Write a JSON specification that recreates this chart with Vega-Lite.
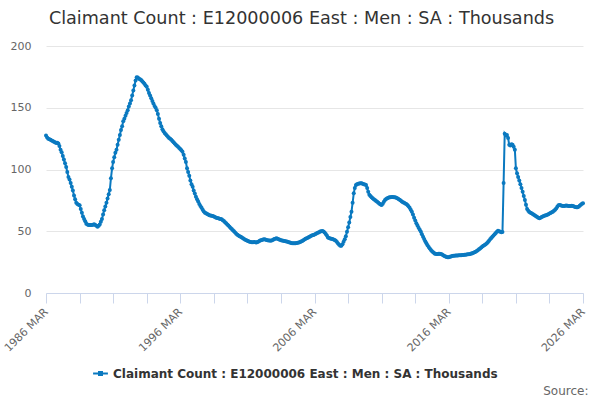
{
  "$schema": "https://vega.github.io/schema/vega-lite/v6.json",
  "width": 537,
  "height": 247,
  "autosize": {"type": "none"},
  "padding": {"left": 46, "top": 46, "right": 17, "bottom": 107},
  "title": {
    "text": "Claimant Count : E12000006 East : Men : SA : Thousands",
    "font": "DejaVu Sans", "fontSize": 17.6, "fontWeight": "normal", "color": "#333333",
    "anchor": "middle", "dx": -13, "offset": 12
  },
  "data": {
    "values": [
      {"d":"1986-03","v":127.5},{"d":"1986-04","v":126},{"d":"1986-05","v":125},{"d":"1986-06","v":124.5},{"d":"1986-07","v":124},{"d":"1986-08","v":123.5},{"d":"1986-09","v":123},{"d":"1986-10","v":122.5},{"d":"1986-11","v":122},{"d":"1986-12","v":121.5},
      {"d":"1987-01","v":121.7},{"d":"1987-02","v":121},{"d":"1987-03","v":119},{"d":"1987-04","v":116},{"d":"1987-05","v":114},{"d":"1987-06","v":111},{"d":"1987-07","v":108},{"d":"1987-08","v":105},{"d":"1987-09","v":102},{"d":"1987-10","v":98},{"d":"1987-11","v":94},{"d":"1987-12","v":92},
      {"d":"1988-01","v":89},{"d":"1988-02","v":86},{"d":"1988-03","v":83},{"d":"1988-04","v":79},{"d":"1988-05","v":76},{"d":"1988-06","v":73},{"d":"1988-07","v":72},{"d":"1988-08","v":71.5},{"d":"1988-09","v":71},{"d":"1988-10","v":68},{"d":"1988-11","v":65},{"d":"1988-12","v":62},
      {"d":"1989-01","v":60},{"d":"1989-02","v":58},{"d":"1989-03","v":56},{"d":"1989-04","v":55.5},{"d":"1989-05","v":55},{"d":"1989-06","v":55},{"d":"1989-07","v":55},{"d":"1989-08","v":55},{"d":"1989-09","v":55.3},{"d":"1989-10","v":55.6},{"d":"1989-11","v":55},{"d":"1989-12","v":54.5},
      {"d":"1990-01","v":53.7},{"d":"1990-02","v":54.5},{"d":"1990-03","v":55.5},{"d":"1990-04","v":57.7},{"d":"1990-05","v":60},{"d":"1990-06","v":63.5},{"d":"1990-07","v":67},{"d":"1990-08","v":70},{"d":"1990-09","v":73},{"d":"1990-10","v":76.5},{"d":"1990-11","v":80},{"d":"1990-12","v":83.4},
      {"d":"1991-01","v":93},{"d":"1991-02","v":101},{"d":"1991-03","v":106},{"d":"1991-04","v":110},{"d":"1991-05","v":113.5},{"d":"1991-06","v":116},{"d":"1991-07","v":120},{"d":"1991-08","v":124},{"d":"1991-09","v":128},{"d":"1991-10","v":132},{"d":"1991-11","v":135},{"d":"1991-12","v":139},
      {"d":"1992-01","v":141},{"d":"1992-02","v":143.5},{"d":"1992-03","v":145.7},{"d":"1992-04","v":148},{"d":"1992-05","v":151},{"d":"1992-06","v":153.5},{"d":"1992-07","v":156},{"d":"1992-08","v":160},{"d":"1992-09","v":164},{"d":"1992-10","v":168},{"d":"1992-11","v":172},{"d":"1992-12","v":174.6},
      {"d":"1993-01","v":174.5},{"d":"1993-02","v":173.5},{"d":"1993-03","v":173},{"d":"1993-04","v":172.5},{"d":"1993-05","v":171.5},{"d":"1993-06","v":170.5},{"d":"1993-07","v":169.5},{"d":"1993-08","v":168},{"d":"1993-09","v":167},{"d":"1993-10","v":164.5},{"d":"1993-11","v":162},{"d":"1993-12","v":160},
      {"d":"1994-01","v":157.6},{"d":"1994-02","v":155.5},{"d":"1994-03","v":153.5},{"d":"1994-04","v":151.5},{"d":"1994-05","v":150},{"d":"1994-06","v":148},{"d":"1994-07","v":145},{"d":"1994-08","v":141},{"d":"1994-09","v":137.6},{"d":"1994-10","v":135},{"d":"1994-11","v":132.5},{"d":"1994-12","v":131},
      {"d":"1995-01","v":129.6},{"d":"1995-02","v":128.5},{"d":"1995-03","v":127.5},{"d":"1995-04","v":126.5},{"d":"1995-05","v":125.5},{"d":"1995-06","v":124.8},{"d":"1995-07","v":124},{"d":"1995-08","v":123},{"d":"1995-09","v":122},{"d":"1995-10","v":121},{"d":"1995-11","v":120},{"d":"1995-12","v":119.3},
      {"d":"1996-01","v":118.5},{"d":"1996-02","v":117.5},{"d":"1996-03","v":116.5},{"d":"1996-04","v":115.5},{"d":"1996-05","v":114.4},{"d":"1996-06","v":112},{"d":"1996-07","v":109},{"d":"1996-08","v":106},{"d":"1996-09","v":101},{"d":"1996-10","v":98},{"d":"1996-11","v":95},{"d":"1996-12","v":91},
      {"d":"1997-01","v":88},{"d":"1997-02","v":86},{"d":"1997-03","v":83},{"d":"1997-04","v":80.5},{"d":"1997-05","v":78},{"d":"1997-06","v":76},{"d":"1997-07","v":74},{"d":"1997-08","v":72},{"d":"1997-09","v":70.5},{"d":"1997-10","v":69},{"d":"1997-11","v":67.5},{"d":"1997-12","v":66},
      {"d":"1998-01","v":65},{"d":"1998-02","v":64.5},{"d":"1998-03","v":64},{"d":"1998-04","v":63.5},{"d":"1998-05","v":63},{"d":"1998-06","v":62.8},{"d":"1998-07","v":62.5},{"d":"1998-08","v":62.3},{"d":"1998-09","v":62},{"d":"1998-10","v":61.5},{"d":"1998-11","v":61},{"d":"1998-12","v":60.8},
      {"d":"1999-01","v":60.5},{"d":"1999-02","v":60.2},{"d":"1999-03","v":60},{"d":"1999-04","v":59.7},{"d":"1999-05","v":59},{"d":"1999-06","v":58.2},{"d":"1999-07","v":57.3},{"d":"1999-08","v":56.4},{"d":"1999-09","v":55.5},{"d":"1999-10","v":54.6},{"d":"1999-11","v":53.7},{"d":"1999-12","v":52.7},
      {"d":"2000-01","v":51.8},{"d":"2000-02","v":50.8},{"d":"2000-03","v":50},{"d":"2000-04","v":49},{"d":"2000-05","v":48},{"d":"2000-06","v":47.2},{"d":"2000-07","v":46.5},{"d":"2000-08","v":46},{"d":"2000-09","v":45.5},{"d":"2000-10","v":45},{"d":"2000-11","v":44.3},{"d":"2000-12","v":43.7},
      {"d":"2001-01","v":43.2},{"d":"2001-02","v":42.7},{"d":"2001-03","v":42.3},{"d":"2001-04","v":42},{"d":"2001-05","v":41.5},{"d":"2001-06","v":41.2},{"d":"2001-07","v":41},{"d":"2001-08","v":41},{"d":"2001-09","v":41.2},{"d":"2001-10","v":41},{"d":"2001-11","v":40.8},{"d":"2001-12","v":41.3},
      {"d":"2002-01","v":41.8},{"d":"2002-02","v":42.3},{"d":"2002-03","v":42.8},{"d":"2002-04","v":43},{"d":"2002-05","v":43.3},{"d":"2002-06","v":43.5},{"d":"2002-07","v":43.3},{"d":"2002-08","v":43},{"d":"2002-09","v":42.8},{"d":"2002-10","v":42.6},{"d":"2002-11","v":42.5},{"d":"2002-12","v":42.4},
      {"d":"2003-01","v":42.8},{"d":"2003-02","v":43.2},{"d":"2003-03","v":43.7},{"d":"2003-04","v":44},{"d":"2003-05","v":44.3},{"d":"2003-06","v":44},{"d":"2003-07","v":43.6},{"d":"2003-08","v":43.2},{"d":"2003-09","v":42.8},{"d":"2003-10","v":42.6},{"d":"2003-11","v":42.4},{"d":"2003-12","v":42.2},
      {"d":"2004-01","v":42},{"d":"2004-02","v":41.7},{"d":"2004-03","v":41.4},{"d":"2004-04","v":41.1},{"d":"2004-05","v":40.8},{"d":"2004-06","v":40.5},{"d":"2004-07","v":40.3},{"d":"2004-08","v":40.2},{"d":"2004-09","v":40.2},{"d":"2004-10","v":40.3},{"d":"2004-11","v":40.5},{"d":"2004-12","v":40.6},
      {"d":"2005-01","v":40.8},{"d":"2005-02","v":41.2},{"d":"2005-03","v":41.7},{"d":"2005-04","v":42.2},{"d":"2005-05","v":42.8},{"d":"2005-06","v":43.4},{"d":"2005-07","v":44},{"d":"2005-08","v":44.3},{"d":"2005-09","v":44.8},{"d":"2005-10","v":45.3},{"d":"2005-11","v":45.8},{"d":"2005-12","v":46.3},
      {"d":"2006-01","v":46.7},{"d":"2006-02","v":47},{"d":"2006-03","v":47.4},{"d":"2006-04","v":47.8},{"d":"2006-05","v":48.3},{"d":"2006-06","v":48.7},{"d":"2006-07","v":49.2},{"d":"2006-08","v":49.7},{"d":"2006-09","v":50},{"d":"2006-10","v":50.2},{"d":"2006-11","v":49.8},{"d":"2006-12","v":49},
      {"d":"2007-01","v":47.8},{"d":"2007-02","v":46.5},{"d":"2007-03","v":45},{"d":"2007-04","v":44.5},{"d":"2007-05","v":44.2},{"d":"2007-06","v":44},{"d":"2007-07","v":43.8},{"d":"2007-08","v":43.4},{"d":"2007-09","v":43},{"d":"2007-10","v":42.3},{"d":"2007-11","v":41.3},{"d":"2007-12","v":40},
      {"d":"2008-01","v":39},{"d":"2008-02","v":38.3},{"d":"2008-03","v":38.2},{"d":"2008-04","v":39.5},{"d":"2008-05","v":41.5},{"d":"2008-06","v":43.5},{"d":"2008-07","v":46},{"d":"2008-08","v":49.5},{"d":"2008-09","v":53.2},{"d":"2008-10","v":57},{"d":"2008-11","v":61.5},{"d":"2008-12","v":65.8},
      {"d":"2009-01","v":73},{"d":"2009-02","v":80.7},{"d":"2009-03","v":85},{"d":"2009-04","v":87.4},{"d":"2009-05","v":88},{"d":"2009-06","v":88.5},{"d":"2009-07","v":88.7},{"d":"2009-08","v":88.8},{"d":"2009-09","v":88.8},{"d":"2009-10","v":88.5},{"d":"2009-11","v":88},{"d":"2009-12","v":87.8},
      {"d":"2010-01","v":87.4},{"d":"2010-02","v":85},{"d":"2010-03","v":82},{"d":"2010-04","v":79.5},{"d":"2010-05","v":78.5},{"d":"2010-06","v":77.5},{"d":"2010-07","v":76.7},{"d":"2010-08","v":76},{"d":"2010-09","v":75.3},{"d":"2010-10","v":74.5},{"d":"2010-11","v":73.8},{"d":"2010-12","v":73},
      {"d":"2011-01","v":72.3},{"d":"2011-02","v":71.7},{"d":"2011-03","v":71.3},{"d":"2011-04","v":72.2},{"d":"2011-05","v":73.8},{"d":"2011-06","v":75.3},{"d":"2011-07","v":76.2},{"d":"2011-08","v":76.8},{"d":"2011-09","v":77.2},{"d":"2011-10","v":77.5},{"d":"2011-11","v":77.6},{"d":"2011-12","v":77.7},
      {"d":"2012-01","v":77.7},{"d":"2012-02","v":77.6},{"d":"2012-03","v":77.5},{"d":"2012-04","v":77.2},{"d":"2012-05","v":76.8},{"d":"2012-06","v":76.2},{"d":"2012-07","v":75.6},{"d":"2012-08","v":75},{"d":"2012-09","v":74},{"d":"2012-10","v":73.5},{"d":"2012-11","v":73},{"d":"2012-12","v":72.5},
      {"d":"2013-01","v":72},{"d":"2013-02","v":71.3},{"d":"2013-03","v":70.3},{"d":"2013-04","v":69},{"d":"2013-05","v":67.5},{"d":"2013-06","v":65.8},{"d":"2013-07","v":63.5},{"d":"2013-08","v":61},{"d":"2013-09","v":58.7},{"d":"2013-10","v":56.4},{"d":"2013-11","v":54.6},{"d":"2013-12","v":52.9},
      {"d":"2014-01","v":51.3},{"d":"2014-02","v":49.6},{"d":"2014-03","v":47.6},{"d":"2014-04","v":45.6},{"d":"2014-05","v":43.7},{"d":"2014-06","v":41.9},{"d":"2014-07","v":40.2},{"d":"2014-08","v":38.7},{"d":"2014-09","v":37.3},{"d":"2014-10","v":36},{"d":"2014-11","v":34.9},{"d":"2014-12","v":33.8},
      {"d":"2015-01","v":32.9},{"d":"2015-02","v":32.1},{"d":"2015-03","v":31.7},{"d":"2015-04","v":31.6},{"d":"2015-05","v":31.6},{"d":"2015-06","v":31.7},{"d":"2015-07","v":31.7},{"d":"2015-08","v":31.6},{"d":"2015-09","v":31.2},{"d":"2015-10","v":30.6},{"d":"2015-11","v":30},{"d":"2015-12","v":29.5},
      {"d":"2016-01","v":29.1},{"d":"2016-02","v":28.9},{"d":"2016-03","v":29},{"d":"2016-04","v":29.3},{"d":"2016-05","v":29.6},{"d":"2016-06","v":29.9},{"d":"2016-07","v":30.1},{"d":"2016-08","v":30.2},{"d":"2016-09","v":30.3},{"d":"2016-10","v":30.4},{"d":"2016-11","v":30.4},{"d":"2016-12","v":30.5},
      {"d":"2017-01","v":30.5},{"d":"2017-02","v":30.6},{"d":"2017-03","v":30.7},{"d":"2017-04","v":30.8},{"d":"2017-05","v":30.9},{"d":"2017-06","v":31},{"d":"2017-07","v":31.1},{"d":"2017-08","v":31.3},{"d":"2017-09","v":31.4},{"d":"2017-10","v":31.6},{"d":"2017-11","v":31.9},{"d":"2017-12","v":32.2},
      {"d":"2018-01","v":32.6},{"d":"2018-02","v":33},{"d":"2018-03","v":33.5},{"d":"2018-04","v":34},{"d":"2018-05","v":34.7},{"d":"2018-06","v":35.4},{"d":"2018-07","v":36.1},{"d":"2018-08","v":36.9},{"d":"2018-09","v":37.6},{"d":"2018-10","v":38.3},{"d":"2018-11","v":38.9},{"d":"2018-12","v":39.5},
      {"d":"2019-01","v":40.3},{"d":"2019-02","v":41.2},{"d":"2019-03","v":42.3},{"d":"2019-04","v":43.5},{"d":"2019-05","v":44.6},{"d":"2019-06","v":45.6},{"d":"2019-07","v":46.6},{"d":"2019-08","v":47.6},{"d":"2019-09","v":48.6},{"d":"2019-10","v":49.6},{"d":"2019-11","v":50.4},{"d":"2019-12","v":50.1},
      {"d":"2020-01","v":49.5},{"d":"2020-02","v":49.2},{"d":"2020-03","v":49.4},{"d":"2020-04","v":89},{"d":"2020-05","v":129},{"d":"2020-06","v":127.5},{"d":"2020-07","v":128},{"d":"2020-08","v":125.5},{"d":"2020-09","v":120},{"d":"2020-10","v":119.5},{"d":"2020-11","v":120.5},{"d":"2020-12","v":120},
      {"d":"2021-01","v":118.5},{"d":"2021-02","v":116},{"d":"2021-03","v":101},{"d":"2021-04","v":97},{"d":"2021-05","v":94},{"d":"2021-06","v":91},{"d":"2021-07","v":88},{"d":"2021-08","v":85},{"d":"2021-09","v":82},{"d":"2021-10","v":78.5},{"d":"2021-11","v":75.3},{"d":"2021-12","v":71.5},
      {"d":"2022-01","v":68},{"d":"2022-02","v":66.5},{"d":"2022-03","v":65.5},{"d":"2022-04","v":65},{"d":"2022-05","v":64.5},{"d":"2022-06","v":64},{"d":"2022-07","v":63.4},{"d":"2022-08","v":62.8},{"d":"2022-09","v":62.2},{"d":"2022-10","v":61.6},{"d":"2022-11","v":61},{"d":"2022-12","v":60.5},
      {"d":"2023-01","v":61},{"d":"2023-02","v":61.5},{"d":"2023-03","v":62},{"d":"2023-04","v":62.3},{"d":"2023-05","v":62.7},{"d":"2023-06","v":63},{"d":"2023-07","v":63.4},{"d":"2023-08","v":63.8},{"d":"2023-09","v":64.3},{"d":"2023-10","v":64.8},{"d":"2023-11","v":65.3},{"d":"2023-12","v":65.8},
      {"d":"2024-01","v":66.6},{"d":"2024-02","v":67.5},{"d":"2024-03","v":68.5},{"d":"2024-04","v":69.8},{"d":"2024-05","v":71},{"d":"2024-06","v":71.3},{"d":"2024-07","v":71},{"d":"2024-08","v":70.7},{"d":"2024-09","v":70.5},{"d":"2024-10","v":70.5},{"d":"2024-11","v":70.6},{"d":"2024-12","v":70.8},
      {"d":"2025-01","v":70.7},{"d":"2025-02","v":70.5},{"d":"2025-03","v":70.4},{"d":"2025-04","v":70.5},{"d":"2025-05","v":70.6},{"d":"2025-06","v":70.4},{"d":"2025-07","v":70},{"d":"2025-08","v":69.7},{"d":"2025-09","v":69.5},{"d":"2025-10","v":69.4},{"d":"2025-11","v":69.8},{"d":"2025-12","v":70.6},
      {"d":"2026-01","v":71.5},{"d":"2026-02","v":72.3},{"d":"2026-03","v":72.6}
    ]
  },
  "transform": [
    {"calculate": "'Claimant Count : E12000006 East : Men : SA : Thousands'", "as": "series"}
  ],
  "mark": {
    "type": "line",
    "strokeWidth": 2,
    "point": {"filled": true, "size": 16}
  },
  "encoding": {
    "x": {
      "field": "d",
      "type": "temporal",
      "scale": {
        "type": "utc",
        "domain": [
          {"year": 1986, "month": 3, "date": 1, "utc": true},
          {"year": 2026, "month": 3, "date": 1, "utc": true}
        ]
      },
      "axis": {
        "values": [
          {"year": 1986, "month": 3, "date": 1, "utc": true},
          {"year": 1988, "month": 9, "date": 1, "utc": true},
          {"year": 1991, "month": 3, "date": 1, "utc": true},
          {"year": 1993, "month": 9, "date": 1, "utc": true},
          {"year": 1996, "month": 3, "date": 1, "utc": true},
          {"year": 1998, "month": 9, "date": 1, "utc": true},
          {"year": 2001, "month": 3, "date": 1, "utc": true},
          {"year": 2003, "month": 9, "date": 1, "utc": true},
          {"year": 2006, "month": 3, "date": 1, "utc": true},
          {"year": 2008, "month": 9, "date": 1, "utc": true},
          {"year": 2011, "month": 3, "date": 1, "utc": true},
          {"year": 2013, "month": 9, "date": 1, "utc": true},
          {"year": 2016, "month": 3, "date": 1, "utc": true},
          {"year": 2018, "month": 9, "date": 1, "utc": true},
          {"year": 2021, "month": 3, "date": 1, "utc": true},
          {"year": 2023, "month": 9, "date": 1, "utc": true},
          {"year": 2026, "month": 3, "date": 1, "utc": true}
        ],
        "labelExpr": "(utcmonth(datum.value) == 2 && (utcyear(datum.value) - 1986) % 10 == 0) ? utcFormat(datum.value, '%Y') + ' MAR' : ''",
        "labelAngle": -45,
        "labelAlign": "right",
        "labelBaseline": "middle",
        "labelPadding": 7,
        "labelFont": "DejaVu Sans",
        "labelFontSize": 11,
        "labelColor": "#666666",
        "labelOverlap": false,
        "labelBound": false,
        "labelFlush": false,
        "grid": false,
        "domainColor": "#ccd6eb",
        "tickColor": "#ccd6eb",
        "tickSize": 10,
        "title": "Source:",
        "titleFont": "DejaVu Sans",
        "titleFontSize": 12,
        "titleFontWeight": "normal",
        "titleColor": "#666666",
        "titleAlign": "right",
        "titleBaseline": "alphabetic",
        "titleX": 542,
        "titleY": 101
      }
    },
    "y": {
      "field": "v",
      "type": "quantitative",
      "scale": {"domain": [0, 200]},
      "axis": {
        "values": [0, 50, 100, 150, 200],
        "title": null,
        "domain": false,
        "ticks": false,
        "grid": true,
        "gridColor": "#e6e6e6",
        "labelFont": "DejaVu Sans",
        "labelFontSize": 11,
        "labelColor": "#666666",
        "labelPadding": 15
      }
    },
    "color": {
      "field": "series",
      "type": "nominal",
      "scale": {"range": ["#0a79c0"]},
      "legend": {
        "orient": "none",
        "legendX": 46,
        "legendY": 319,
        "title": null,
        "symbolType": "M-1,0L1,0M-0.2,-0.2L0.2,-0.2L0.2,0.2L-0.2,0.2Z",
        "symbolSize": 220,
        "symbolStrokeWidth": 2,
        "symbolStrokeColor": "#0a79c0",
        "symbolFillColor": "#0a79c0",
        "labelFont": "DejaVu Sans",
        "labelFontSize": 12,
        "labelFontWeight": "bold",
        "labelColor": "#333333",
        "labelLimit": 600
      }
    }
  },
  "config": {
    "view": {"stroke": null}
  }
}
